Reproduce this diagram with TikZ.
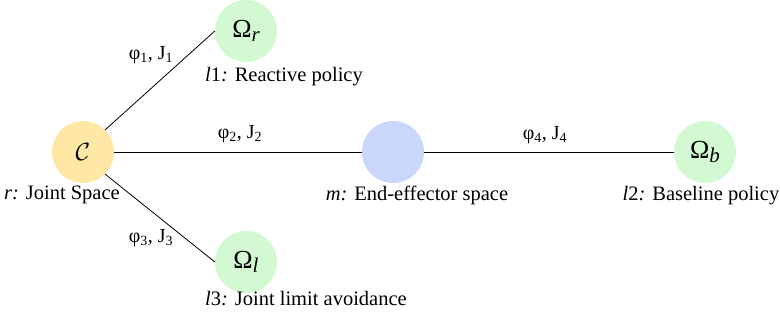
\documentclass[tikz,border=0pt]{standalone}
\usepackage{fontspec}
\setmainfont{Liberation Serif}
\begin{document}
\begin{tikzpicture}[x=1pt,y=-1pt,
  every node/.style={inner sep=0pt},
  yel/.style={circle,fill={rgb,255:red,255;green,232;blue,166},minimum size=62pt},
  grn/.style={circle,fill={rgb,255:red,211;green,249;blue,211},minimum size=62pt},
  blu/.style={circle,fill={rgb,255:red,201;green,215;blue,251},minimum size=62pt},
  lbl/.style={font=\fontsize{20.5}{24}\selectfont},
  elbl/.style={font=\fontsize{20}{24}\selectfont},
  sym/.style={font=\fontsize{26}{30}\selectfont},
  edge/.style={draw=black,line width=0.8pt}]
\useasboundingbox (0,0) rectangle (780,323);
\node[yel,sym] (C) at (83,152) {$\mathcal{C}$};
\node[grn,sym] (Or) at (246,31) {Ω\textit{\fontsize{21}{24}\selectfont\raisebox{-4pt}{r}}};
\node[grn,sym] (Ol) at (246,262) {Ω\textit{\fontsize{21}{24}\selectfont\raisebox{-4pt}{l}}};
\node[blu] (M) at (393,152) {};
\node[grn,sym] (Ob) at (705,152) {Ω\textit{\fontsize{21}{24}\selectfont\raisebox{-4pt}{b}}};
\draw[edge] (C.north east) -- (Or.west);
\draw[edge] (C.south east) -- (Ol.west);
\draw[edge] (C.east) -- (M.west);
\draw[edge] (M.east) -- (Ob.west);
\node[elbl] (e1) at (151,55) {φ\textsubscript{1}, J\textsubscript{1}};
\node[elbl] (e2) at (240,134) {φ\textsubscript{2}, J\textsubscript{2}};
\node[elbl] (e3) at (151,238) {φ\textsubscript{3}, J\textsubscript{3}};
\node[elbl] (e4) at (545,135) {φ\textsubscript{4}, J\textsubscript{4}};
\node[lbl] (t1) at (62,195) {\textit{r:} Joint Space};
\node[lbl] (t2) at (284,77) {\textit{l}1\textit{:} Reactive policy};
\node[lbl] (t3) at (306,299) {\textit{l}3\textit{:} Joint limit avoidance};
\node[lbl] (t4) at (417,195) {\textit{m:} End-effector space};
\node[lbl] (t5) at (701,196) {\textit{l}2\textit{:} Baseline policy};
\end{tikzpicture}
\end{document}
